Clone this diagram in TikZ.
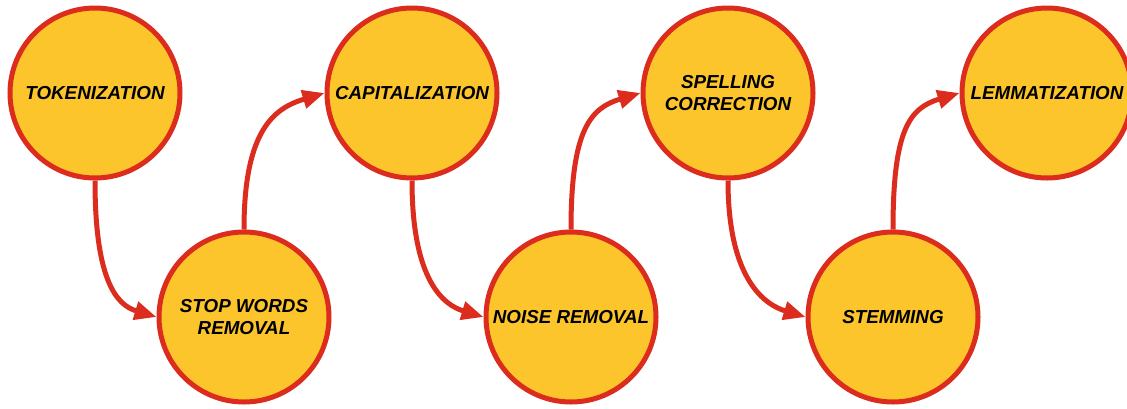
\documentclass[tikz,border=0pt]{standalone}
\usepackage{fontspec}
\setmainfont{Liberation Sans}
\usetikzlibrary{arrows.meta}

\definecolor{stepfill}{RGB}{252,197,44}
\definecolor{stepred}{RGB}{220,44,30}

\tikzset{
  stage/.style={circle, draw=stepred, fill=stepfill, line width=5pt,
    minimum size=170pt, inner sep=0pt, align=center,
    font=\fontsize{18.8}{22}\selectfont\bfseries\itshape, text=black},
  flow/.style={draw=stepred, line width=5pt,
    -{Triangle[length=22pt, width=18pt]}}
}

\begin{document}
\begin{tikzpicture}[x=1pt, y=-1pt]
  \clip (0,0) rectangle (1127,408);
  \fill[white] (0,0) rectangle (1127,408);

  % pipeline stages, alternating between the upper and lower row
  \node[stage] (tok)   at (95,93)   {TOKENIZATION};
  \node[stage] (stop)  at (244,317) {STOP WORDS\\REMOVAL};
  \node[stage] (cap)   at (412,93)  {CAPITALIZATION};
  \node[stage] (noise) at (571,317) {NOISE REMOVAL};
  \node[stage] (spell) at (728,93)  {SPELLING\\CORRECTION};
  \node[stage] (stem)  at (893,317) {STEMMING};
  \node[stage] (lem)   at (1047,93) {LEMMATIZATION};

  % downward links: bottom of an upper stage to the left of a lower stage
  \draw[flow] (tok.south)   .. controls +(0,100) and +(-40,-12) .. (stop.west);
  \draw[flow] (cap.south)   .. controls +(0,100) and +(-40,-12) .. (noise.west);
  \draw[flow] (spell.south) .. controls +(0,100) and +(-40,-12) .. (stem.west);

  % upward links: top of a lower stage to the left of an upper stage
  \draw[flow] (stop.north)  .. controls +(0,-100) and +(-50,15) .. (cap.west);
  \draw[flow] (noise.north) .. controls +(0,-100) and +(-50,15) .. (spell.west);
  \draw[flow] (stem.north)  .. controls +(0,-100) and +(-50,15) .. (lem.west);
\end{tikzpicture}
\end{document}
